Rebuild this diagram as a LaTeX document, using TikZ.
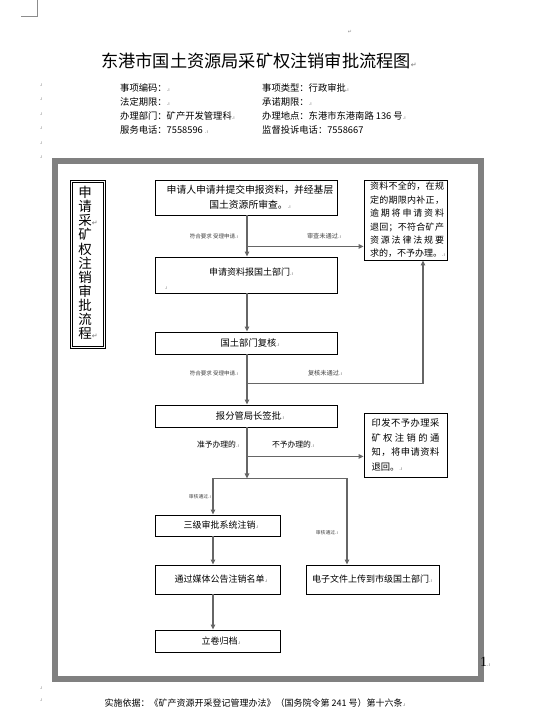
\documentclass[tikz,border=0pt]{standalone}
\usepackage{fontspec}
\setmainfont{Noto Sans CJK SC}
\newfontfamily\dvfont{DejaVu Sans}
\newfontfamily\serfont{Liberation Serif}
\usetikzlibrary{arrows.meta,calc}
\newcommand{\pmk}{{\dvfont\fontsize{5}{5}\selectfont\color{black!55}.ı}}
\newcommand{\rmk}{{\dvfont\fontsize{7}{7}\selectfont\color{black!55}↵}}
\tikzset{
  box/.style={draw=black,line width=0.9pt,inner sep=0pt},
  btxt/.style={inner sep=0pt,font=\fontsize{9}{9}\selectfont},
  conn/.style={draw=black!60,line width=1.2pt},
  arr/.style={conn,-{Triangle[length=5pt,width=4.5pt]},},
  tiny/.style={inner sep=0pt,font=\fontsize{5.5}{5.5}\selectfont,text=black!75},
  info/.style={inner sep=0pt,anchor=west,font=\fontsize{9.3}{9.3}\selectfont},
  pmark/.style={inner sep=0pt,font=\dvfont\fontsize{5}{5}\selectfont,text=black!45}
}
\begin{document}
\begin{tikzpicture}[x=1pt,y=-1pt]
\useasboundingbox (0,0) rectangle (541,714);
% crop mark
\draw[black!45,line width=0.6pt] (37,0) -- (37,16) -- (21,16);
\node[pmark] (m0) at (350,32) {↵};
\foreach \yy/\nm in {85/a,99/b,114/c,128/d,143/e,157/f,688/g,700/h}
  \node[pmark] (mk\nm) at (41,\yy) {.ı};
% title
\node[inner sep=0pt,font=\fontsize{17.2}{17.2}\selectfont] (title) at (259,61) {东港市国土资源局采矿权注销审批流程图\rmk};
% info
\node[info] (i1) at (120,88) {事项编码：\pmk};
\node[info] (i2) at (262,88) {事项类型：行政审批\pmk};
\node[info] (i3) at (120,102) {法定期限：\pmk};
\node[info] (i4) at (262,102) {承诺期限：\pmk};
\node[info] (i5) at (120,116) {办理部门：矿产开发管理科\pmk};
\node[info] (i6) at (262,116) {办理地点：东港市东港南路 136 号\pmk};
\node[info] (i7) at (120,130) {服务电话：7558596 \pmk};
\node[info] (i8) at (262,130) {监督投诉电话：7558667};
% outer frame
\draw[black!50,line width=6pt] (55,161) rectangle (481,679);
\node[inner sep=0pt,font=\serfont\fontsize{14}{14}\selectfont] (pg) at (485,662) {1\pmk};
% vertical title box
\node[draw=black,line width=0.7pt,double=white,double distance=1.6pt,minimum width=33pt,minimum height=166pt,inner sep=0pt] (vbox) at (88,264.5) {};
\node[inner sep=0pt,align=center,font=\fontsize{13.5}{14.1}\selectfont] (vtxt) at (85,263) {申\\请\\采\rlap{\rmk}\\矿\\权\\注\\销\\审\\批\\流\\程\rlap{\rmk}};
% boxes
\node[box,minimum width=182pt,minimum height=35pt] (b1) at (246,197.5) {};
\node[btxt,align=center,font=\fontsize{9.8}{15}\selectfont] (b1t) at (250,197.5) {申请人申请并提交申报资料，并经基层\\国土资源所审查。\pmk};
\node[box,minimum width=182pt,minimum height=36pt] (b2) at (246,275) {};
\node[btxt] (b2t) at (251,272) {申请资料报国土部门\pmk};
\node[pmark] (b2p) at (166,288) {.ı};
\node[box,minimum width=182pt,minimum height=22pt] (b3) at (246,343) {};
\node[btxt,font=\fontsize{9.3}{9.3}\selectfont] (b3t) at (250,343) {国土部门复核\pmk};
\node[box,minimum width=182pt,minimum height=22pt] (b4) at (246,416) {};
\node[btxt,font=\fontsize{9.3}{9.3}\selectfont] (b4t) at (250,416) {报分管局长签批\pmk};
\node[box,minimum width=125pt,minimum height=21pt] (b5) at (217.5,525.5) {};
\node[btxt] (b5t) at (221,525.5) {三级审批系统注销\pmk};
\node[box,minimum width=125pt,minimum height=29pt] (b6) at (217.5,579.5) {};
\node[btxt] (b6t) at (221,579.5) {通过媒体公告注销名单\pmk};
\node[box,minimum width=125pt,minimum height=22pt] (b7) at (217.5,641) {};
\node[btxt] (b7t) at (221,641) {立卷归档\pmk};
\node[box,minimum width=133pt,minimum height=29pt] (b8) at (372.5,579.5) {};
\node[btxt] (b8t) at (372,579.5) {电子文件上传到市级国土部门\pmk};
% right boxes
\node[box,minimum width=83pt,minimum height=80pt] (bA) at (405.5,220) {};
\node[inner sep=0pt,align=left,anchor=center,font=\fontsize{9}{13.4}\selectfont] (bAt) at (407,220) {%
\makebox[74pt][s]{资\hfil 料\hfil 不\hfil 全\hfil 的\hfil ，\hfil 在\hfil 规}\\
\makebox[74pt][s]{定\hfil 的\hfil 期\hfil 限\hfil 内\hfil 补\hfil 正\hfil ，}\\
\makebox[74pt][s]{逾\hfil 期\hfil 将\hfil 申\hfil 请\hfil 资\hfil 料}\\
\makebox[74pt][s]{退\hfil 回\hfil ；\hfil 不\hfil 符\hfil 合\hfil 矿\hfil 产}\\
\makebox[74pt][s]{资\hfil 源\hfil 法\hfil 律\hfil 法\hfil 规\hfil 要}\\
\makebox[74pt][l]{求的，不予办理。\pmk}};
\node[box,minimum width=83pt,minimum height=64pt] (bB) at (405.5,445) {};
\node[inner sep=0pt,align=left,anchor=center,font=\fontsize{9.3}{14.4}\selectfont] (bBt) at (405.5,445) {%
\makebox[68pt][s]{印\hfil 发\hfil 不\hfil 予\hfil 办\hfil 理\hfil 采}\\
\makebox[68pt][s]{矿\hfil 权\hfil 注\hfil 销\hfil 的\hfil 通}\\
\makebox[68pt][s]{知\hfil ，\hfil 将\hfil 申\hfil 请\hfil 资\hfil 料}\\
\makebox[68pt][l]{退回。\pmk}};
% junction coordinates
\coordinate (j1) at ($(b1.south)+(1,31)$);
\coordinate (j2) at ($(b3.south)+(1,29)$);
\coordinate (j3) at ($(b4.south)+(1,29)$);
\coordinate (j4) at ($(b4.south)+(1,51)$);
\coordinate (l5) at ($(j4)+(-34,0)$);
\coordinate (r8) at ($(j4)+(100,0)$);
\coordinate (aUp) at ($(bA.south)+(17.5,0)$);
% connectors
\draw[arr] ($(b1.south)+(1,0)$) -- ($(b2.north)+(1,0)$);
\draw[arr] (j1) -- (j1 -| bA.west);
\draw[arr] ($(b2.south)+(1,0)$) -- ($(b3.north)+(1,0)$);
\draw[arr] ($(b3.south)+(1,0)$) -- ($(b4.north)+(1,0)$);
\draw[arr] (j2) -| (aUp);
\draw[arr] ($(b4.south)+(1,0)$) -- (j4);
\draw[arr] (j3) -- (j3 -| bB.west);
\draw[conn] (l5) -- (r8);
\draw[arr] (l5) -- (l5 |- b5.north);
\draw[arr] (r8) -- (r8 |- b8.north);
\draw[arr] (l5 |- b5.south) -- (l5 |- b6.north);
\draw[arr] (l5 |- b6.south) -- (l5 |- b7.north);
% labels
\node[tiny] (lab1) at (214,236) {符合要求 受理申请\pmk};
\node[tiny,font=\fontsize{6.2}{6.2}\selectfont] (lab2) at (324,236) {审查未通过\pmk};
\node[tiny] (lab3) at (214,373) {符合要求 受理申请\pmk};
\node[tiny,font=\fontsize{6.2}{6.2}\selectfont] (lab4) at (325,373) {复核未通过\pmk};
\node[tiny,font=\fontsize{7.8}{7.8}\selectfont,text=black] (lab5) at (218,445) {准予办理的\pmk};
\node[tiny,font=\fontsize{7.8}{7.8}\selectfont,text=black] (lab6) at (293,445) {不予办理的\pmk};
\node[tiny,font=\fontsize{4.8}{4.8}\selectfont] (lab7) at (200,497) {审核通过\pmk};
\node[tiny,font=\fontsize{4.8}{4.8}\selectfont] (lab8) at (327,533) {审核通过\pmk};
% footer
\node[inner sep=0pt,font=\fontsize{9}{9}\selectfont] (foot) at (255,703) {实施依据：《矿产资源开采登记管理办法》（国务院令第 241 号）第十六条\pmk};
\end{tikzpicture}
\end{document}
